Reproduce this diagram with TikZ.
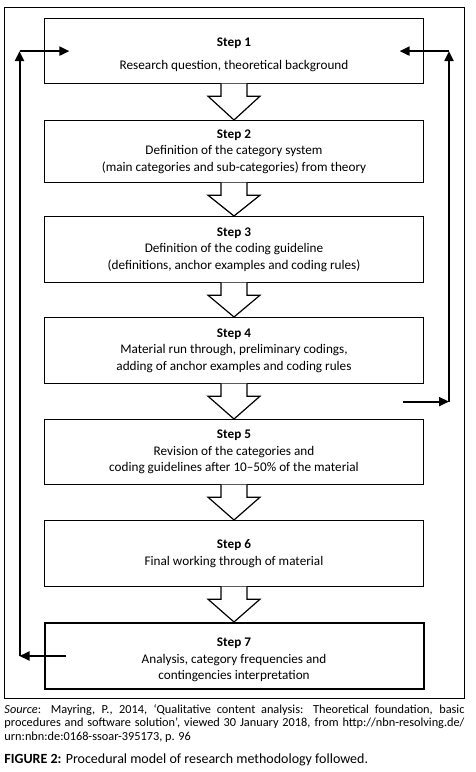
\documentclass[tikz,border=0pt]{standalone}
\usepackage{fontspec}
\setmainfont{Carlito}
\usetikzlibrary{arrows.meta,calc}
\begin{document}
\begin{tikzpicture}[x=1pt,y=-1pt,
  stepbox/.style={draw, line width=1.2pt, minimum width=379pt, inner sep=0pt, align=center,
    font=\fontsize{13.2}{16.5}\selectfont, anchor=north},
  loopline/.style={line width=2pt, -{Triangle[length=10pt,width=9pt]}},
  blockarrow/.style={draw, line width=1.2pt, fill=white, line join=miter}]
\useasboundingbox (0,0) rectangle (476,772);
\fill[white] (0,0) rectangle (476,772);
\draw[line width=1pt] (4.3,7) rectangle (464,698);

\node[stepbox, minimum height=65pt] (s1) at (234,18) {\rule{0pt}{16pt}\textbf{Step 1}\\[6.5pt]Research question, theoretical background};
\node[stepbox, minimum height=62pt] (s2) at (234,120) {\textbf{Step 2}\\Definition of the category system\\(main categories and sub-categories) from theory};
\node[stepbox, minimum height=66pt] (s3) at (234,216) {\textbf{Step 3}\\Definition of the coding guideline\\(definitions, anchor examples and coding rules)};
\node[stepbox, minimum height=66pt] (s4) at (234,317) {\textbf{Step 4}\\Material run through, preliminary codings,\\adding of anchor examples and coding rules};
\node[stepbox, minimum height=65pt] (s5) at (234,419) {\textbf{Step 5}\\Revision of the categories and\\coding guidelines after 10–50\% of the material};
\node[stepbox, minimum height=66pt] (s6) at (234,520) {\textbf{Step 6}\\Final working through of material};
\node[stepbox, minimum height=66pt, line width=2pt] (s7) at (234,622) {\rule{0pt}{17pt}\textbf{Step 7}\\Analysis, category frequencies and\\contingencies interpretation};

\foreach \a/\b in {s1/s2,s2/s3,s3/s4,s4/s5,s5/s6,s6/s7}{
  \filldraw[blockarrow] ($(\a.south)+(-13,-0.6)$) -- ($(\a.south)+(-13,12)$) -- ($(\a.south)+(-26,12)$)
    -- (\b.north) -- ($(\a.south)+(26,12)$) -- ($(\a.south)+(13,12)$) -- ($(\a.south)+(13,-0.6)$);
}

\coordinate (lx) at (19.5,0);
\coordinate (rx) at (449,0);
\coordinate (L0) at ($(s7.west)+(22.5,0)$);
\draw[loopline] (L0) -- (s7.west -| lx);
\draw[loopline] (s7.west -| lx) -- (s1.west -| lx);
\draw[loopline] (s1.west -| lx) -- ($(s1.west)+(25.5,0)$);

\coordinate (R0) at ($(s4.south east)!0.5!(s5.north east)+(-21,0)$);
\draw[loopline] (R0) -- (R0 -| rx);
\draw[loopline] (R0 -| rx) -- (s1.east -| rx);
\draw[loopline] (s1.east -| rx) -- ($(s1.east)+(-24.5,0)$);

\node[anchor=north west, text width=460pt, align=justify, inner sep=0pt,
  font=\fontsize{12.3}{13.6}\selectfont] (src) at (4.3,704)
  {\textit{Source}: Mayring, P., 2014, ‘Qualitative content analysis: Theoretical foundation, basic\linebreak procedures and software solution’, viewed 30 January 2018, from http://nbn-resolving.de/\linebreak urn:nbn:de:0168-ssoar-395173, p. 96};
\node[anchor=west, inner sep=0pt, font=\fontsize{14}{16}\selectfont] (fig) at (4.3,760)
  {\textbf{FIGURE 2:} Procedural model of research methodology followed.};
\end{tikzpicture}
\end{document}
